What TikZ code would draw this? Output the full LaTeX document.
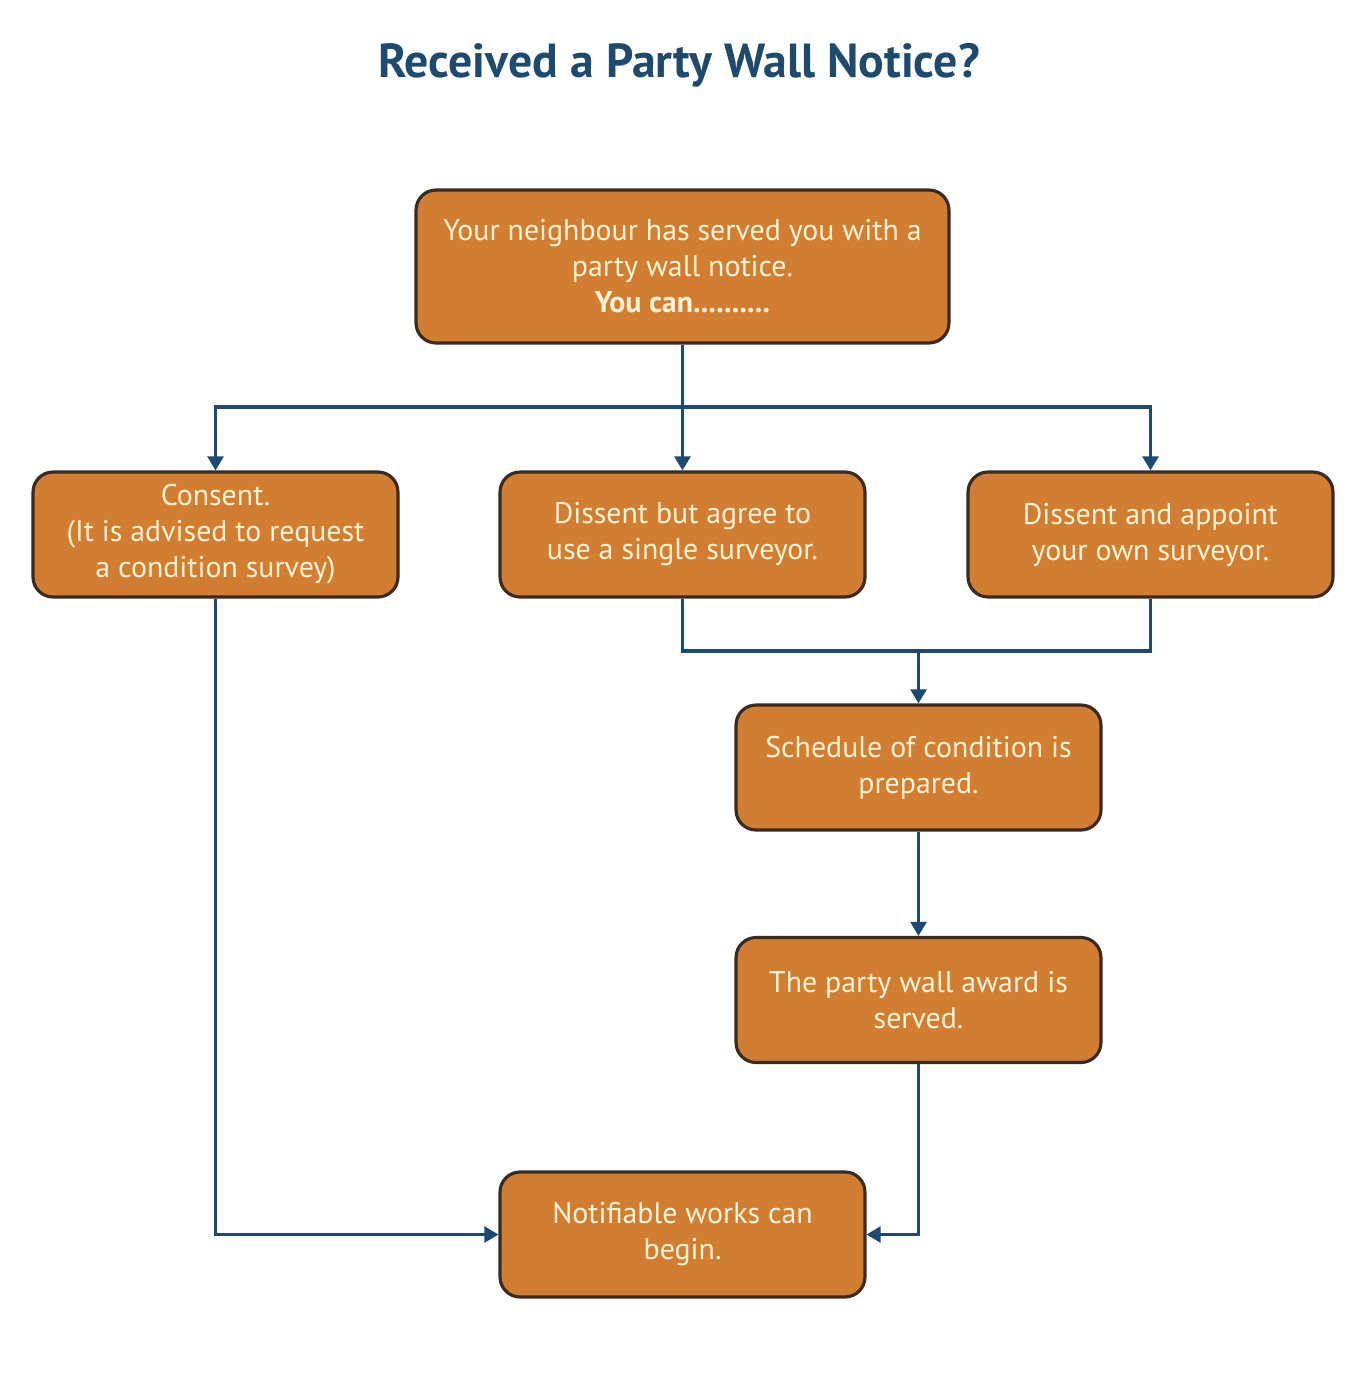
\documentclass[tikz,border=0pt]{standalone}
\usepackage{fontspec}
\setmainfont{PT Sans}
\usetikzlibrary{arrows.meta,positioning}
\definecolor{boxfill}{HTML}{D17E33}
\definecolor{boxedge}{HTML}{3B2A1E}
\definecolor{boxtext}{HTML}{FFF3D6}
\definecolor{linkblue}{HTML}{1D4872}
\definecolor{titleblue}{HTML}{1E4A6E}
\tikzset{
  px/.style={x=0.02cm,y=-0.02cm},
  flowbox/.style={draw=boxedge,line width=1.8pt,fill=boxfill,rounded corners=0.4cm,
    text=boxtext,align=center,inner sep=0pt,font=\fontsize{17}{20.5}\selectfont},
  link/.style={draw=linkblue,line width=1.8pt,-{Triangle[width=9pt,length=8pt]}},
  plainlink/.style={draw=linkblue,line width=1.8pt}
}
\begin{document}
\begin{tikzpicture}[px]
\useasboundingbox (0,0) rectangle (1366,1373);
\node[font=\fontsize{27.2}{32}\selectfont\bfseries,text=titleblue] (title) at (679,65) {Received a Party Wall Notice?};
\node[flowbox,minimum width=10.66cm,minimum height=3.06cm] (top) at (682.5,266.5)
  {Your neighbour has served you with a\\party wall notice.\\\textbf{You can..........}};
\node[flowbox,minimum width=7.3cm,minimum height=2.5cm] (consent) at (215.5,534.5)
  {Consent.\\(It is advised to request\\a condition survey)};
\node[flowbox,minimum width=7.3cm,minimum height=2.5cm] (single) at (682.5,534.5)
  {Dissent but agree to\\use a single surveyor.};
\node[flowbox,minimum width=7.3cm,minimum height=2.5cm] (own) at (1150.5,534.5)
  {Dissent and appoint\\your own surveyor.};
\node[flowbox,minimum width=7.3cm,minimum height=2.5cm] (sched) at (918.5,767.5)
  {Schedule of condition is\\prepared.};
\node[flowbox,minimum width=7.3cm,minimum height=2.5cm] (award) at (918.5,1000)
  {The party wall award is\\served.};
\node[flowbox,minimum width=7.3cm,minimum height=2.5cm] (works) at (682.5,1234.5)
  {Notifiable works can\\begin.};
\coordinate (bus) at (682.5,407);
\coordinate (merge) at (918.5,651);
\draw[link] (top.south) -- (single.north);
\draw[link] (bus) -| (consent.north);
\draw[link] (bus) -| (own.north);
\draw[plainlink] (single.south) |- (merge);
\draw[plainlink] (own.south) |- (merge);
\draw[link] (merge) -- (sched.north);
\draw[link] (sched.south) -- (award.north);
\draw[link] (award.south) |- (works.east);
\draw[link] (consent.south) |- (works.west);
\end{tikzpicture}
\end{document}
